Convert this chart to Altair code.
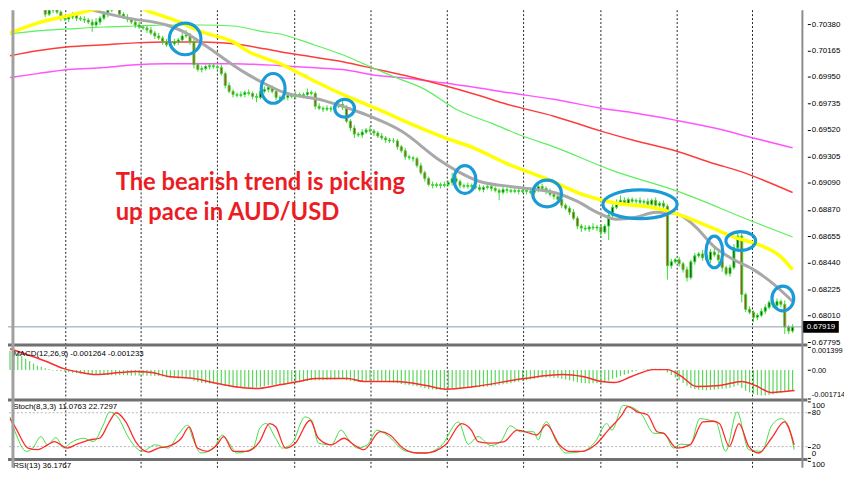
import altair as alt
import pandas as pd

# ---------------- data (prices in points = 1e-5) ----------------
first_open_pts = 70730
close_pts = [
    70718, 70702, 70678, 70638, 70581, 70541, 70549, 70533, 70541, 70460,
    70493, 70517, 70477, 70428, 70420, 70436, 70452, 70428, 70420, 70412,
    70396, 70372, 70396, 70428, 70460, 70493, 70525, 70509, 70460, 70436,
    70420, 70396, 70372, 70356, 70348, 70332, 70307, 70283, 70267, 70235,
    70211, 70219, 70235, 70251, 70283, 70291, 70235, 70050, 70010, 70018,
    70034, 70042, 70034, 70026, 69977, 69881, 69833, 69808, 69800, 69808,
    69824, 69816, 69792, 69784, 69833, 69849, 69865, 69833, 69784, 69776,
    69784, 69800, 69792, 69808, 69800, 69808, 69824, 69816, 69712, 69696,
    69688, 69696, 69688, 69712, 69728, 69704, 69591, 69535, 69486, 69478,
    69502, 69519, 69510, 69494, 69470, 69454, 69438, 69430, 69430, 69382,
    69350, 69301, 69293, 69285, 69229, 69172, 69124, 69076, 69068, 69076,
    69068, 69076, 69092, 69124, 69100, 69068, 69060, 69068, 69060, 69052,
    69036, 69052, 69060, 69044, 69028, 69012, 69036, 69028, 69020, 69028,
    69020, 69028, 69020, 69012, 69028, 69060, 69044, 69020, 68995, 68979,
    68955, 68907, 68883, 68851, 68802, 68738, 68722, 68714, 68730, 68722,
    68730, 68689, 68738, 68826, 68891, 68931, 68947, 68923, 68955, 68939,
    68947, 68931, 68939, 68915, 68947, 68907, 68923, 68899, 68416, 68448,
    68464, 68432, 68384, 68319, 68448, 68496, 68512, 68480, 68464, 68528,
    68504, 68464, 68400, 68351, 68400, 68561, 68657, 68182, 68062, 68037,
    67997, 68013, 68046, 68078, 68118, 68094, 68126, 68102, 67917, 67885,
    67917,
]
hi_ext_pts = [
    16, 24, 16, 24, 32, 24, 16, 24, 40, 16,
    24, 16, 24, 16, 24, 16, 24, 16, 16, 24,
    16, 24, 32, 16, 24, 24, 40, 24, 16, 16,
    24, 16, 16, 24, 16, 16, 24, 16, 24, 16,
    24, 16, 24, 16, 24, 40, 16, 24, 16, 24,
    16, 24, 16, 16, 24, 16, 24, 16, 16, 24,
    16, 24, 16, 24, 40, 24, 16, 16, 24, 16,
    24, 16, 16, 24, 16, 16, 32, 16, 16, 24,
    16, 24, 16, 24, 32, 24, 16, 16, 24, 16,
    24, 16, 32, 16, 16, 24, 16, 16, 24, 16,
    16, 24, 16, 16, 16, 24, 16, 16, 24, 16,
    16, 24, 16, 48, 24, 16, 16, 24, 16, 16,
    24, 16, 16, 24, 16, 16, 24, 16, 16, 24,
    16, 24, 16, 32, 24, 40, 24, 16, 24, 16,
    16, 24, 16, 16, 24, 16, 16, 24, 16, 32,
    16, 24, 16, 16, 24, 24, 40, 24, 16, 16,
    16, 24, 16, 24, 16, 24, 16, 24, 16, 24,
    16, 24, 16, 24, 16, 24, 16, 32, 16, 24,
    40, 24, 16, 16, 24, 32, 24, 24, 16, 24,
    16, 16, 24, 24, 16, 16, 24, 16, 32, 16,
    24,
]
lo_ext_pts = [
    16, 16, 24, 16, 24, 16, 24, 16, 16, 24,
    16, 24, 16, 24, 16, 24, 16, 24, 16, 24,
    16, 56, 16, 24, 16, 24, 16, 16, 24, 16,
    24, 16, 24, 16, 16, 24, 16, 24, 16, 24,
    16, 24, 16, 24, 16, 16, 24, 32, 16, 24,
    16, 24, 16, 24, 16, 24, 16, 24, 16, 16,
    24, 16, 24, 40, 16, 16, 24, 16, 24, 16,
    16, 24, 16, 24, 16, 24, 16, 16, 24, 16,
    24, 16, 24, 16, 16, 24, 16, 24, 32, 16,
    24, 16, 16, 24, 16, 16, 24, 16, 16, 24,
    16, 24, 16, 24, 16, 16, 24, 16, 24, 16,
    24, 16, 16, 24, 16, 24, 16, 16, 24, 16,
    16, 24, 16, 24, 16, 64, 16, 24, 16, 16,
    24, 16, 24, 16, 24, 16, 16, 24, 16, 24,
    16, 24, 16, 24, 16, 24, 32, 16, 24, 16,
    24, 40, 16, 113, 24, 16, 24, 16, 24, 16,
    24, 16, 24, 16, 24, 16, 16, 24, 113, 24,
    16, 24, 24, 32, 16, 24, 16, 24, 16, 24,
    16, 24, 32, 16, 24, 16, 24, 64, 24, 16,
    40, 24, 16, 24, 16, 24, 16, 24, 56, 24,
    16,
]

# moving averages: bar index -> value in points
ma_gray_idx = [0, 10, 20, 30, 40, 45, 50, 60, 65, 70, 80, 90, 100, 110, 115, 120, 130, 140,
               145, 150, 155, 160, 165, 170, 175, 180, 185, 190, 195, 200]
ma_gray_pts = [70549, 70590, 70501, 70428, 70372, 70307, 70203, 69985, 69897, 69824, 69760,
               69655, 69510, 69269, 69172, 69100, 69052, 69003, 68939, 68850, 68794, 68810,
               68850, 68842, 68738, 68569, 68464, 68384, 68271, 68126]
ma_yellow_idx = [0, 7, 15, 24, 32, 36, 42, 49, 57, 61, 69, 77, 85, 94, 102, 110, 119, 127,
                 137, 147, 155, 164, 170, 179, 185, 190, 197, 200]
ma_yellow_pts = [70307, 70388, 70448, 70509, 70517, 70477, 70412, 70316, 70235, 70155, 70058,
                 69929, 69808, 69688, 69575, 69470, 69366, 69245, 69124, 68987, 68923, 68891,
                 68842, 68730, 68649, 68601, 68488, 68384]
ma_green_idx = [0, 7, 15, 24, 32, 40, 49, 57, 65, 69, 77, 85, 92, 98, 106, 114, 123, 131,
                139, 154, 170, 189, 200]
ma_green_pts = [70299, 70324, 70340, 70356, 70364, 70372, 70372, 70364, 70316, 70299, 70219,
                70130, 70034, 69953, 69849, 69688, 69575, 69470, 69382, 69189, 69028, 68786,
                68649]
ma_red_idx = [0, 7, 15, 24, 32, 40, 49, 57, 65, 69, 77, 85, 94, 102, 110, 119, 127, 139, 151,
              160, 170, 180, 186, 200]
ma_red_pts = [70122, 70163, 70195, 70211, 70227, 70235, 70235, 70219, 70179, 70155, 70114,
              70074, 70010, 69953, 69889, 69808, 69728, 69631, 69510, 69430, 69350, 69245,
              69189, 69011]
ma_magenta_idx = [0, 7, 15, 24, 32, 40, 57, 69, 77, 85, 94, 102, 110, 119, 127, 139, 151, 160,
                  170, 180, 190, 200]
ma_magenta_pts = [69945, 69977, 70010, 70026, 70050, 70058, 70058, 70042, 70026, 70010, 69961,
                  69937, 69905, 69865, 69824, 69768, 69696, 69655, 69599, 69535, 69454, 69374]

# MACD (values in 1e-5)
macd_hist = [
    117, 108, 99, 84, 69, 55, 40, 27, 20, 12,
    6, -3, -5, -7, -9, -13, -16, -19, -21, -23,
    -25, -27, -28, -29, -30, -30, -31, -31, -30, -30,
    -31, -32, -33, -33, -33, -34, -34, -35, -36, -38,
    -44, -47, -49, -50, -49, -48, -52, -64, -72, -78,
    -80, -81, -81, -82, -86, -94, -100, -104, -106, -107,
    -107, -106, -106, -105, -102, -97, -92, -90, -89, -87,
    -85, -82, -80, -77, -74, -70, -66, -62, -62, -62,
    -61, -60, -58, -56, -54, -54, -60, -65, -69, -70,
    -70, -69, -68, -68, -69, -70, -72, -74, -76, -80,
    -84, -88, -91, -94, -98, -104, -110, -115, -117, -118,
    -118, -117, -115, -111, -109, -108, -107, -106, -105, -104,
    -103, -101, -99, -96, -93, -90, -86, -82, -78, -74,
    -70, -64, -60, -56, -53, -48, -45, -44, -45, -46,
    -48, -52, -57, -62, -68, -74, -78, -80, -81, -80,
    -80, -79, -74, -64, -54, -45, -36, -28, -20, -12,
    -5, 0, 4, 7, 9, 9, 8, 6, -15, -30,
    -45, -60, -78, -95, -108, -114, -118, -120, -122, -121,
    -119, -115, -112, -111, -108, -100, -92, -108, -124, -135,
    -144, -150, -153, -153, -150, -146, -141, -137, -133, -130,
    -126,
]
macd_sig_idx = [0, 3.8, 8.8, 13.8, 17, 22, 28, 32, 36.3, 40.5, 47, 53, 57, 63, 68, 73.8, 78,
                86.3, 90.5, 98.8, 106.3, 111.3, 118.8, 131.3, 141.3, 146.3, 151.3, 154.5,
                158.8, 164.5, 168, 171.3, 175.5, 181.3, 187, 190.5, 194.5, 198, 200.5]
macd_sig = [129, 99, 57, 9, -9, -27, -15, -9, -15, -39, -51, -81, -99, -111, -93, -69, -51,
            -51, -69, -69, -93, -115, -99, -51, -27, -39, -69, -75, -39, 3, 3, -33, -99, -93,
            -69, -93, -135, -129, -123]

# Stochastic
stoch_sig_idx = [0, 1.3, 4.6, 7.1, 9.6, 11.3, 14.6, 17.1, 20.4, 22.9, 25.4, 27.1, 29.6, 32.1,
                 35.4, 37.9, 40.4, 43.8, 45.8, 47.9, 50.4, 52.9, 54.6, 57.1, 60.4, 63.8, 66.3,
                 67.9, 70.4, 72.9, 76.7, 78.8, 82.1, 85.4, 87.9, 90.4, 94.6, 97.1, 100.4,
                 103.8, 106.3, 111.3, 115.4, 117.9, 119.6, 122.9, 126.3, 129.6, 132.9, 134.6,
                 137.1, 140.4, 142.9, 146.3, 149.6, 152.9, 156.3, 157.9, 160.4, 162.9, 165.4,
                 167.1, 170.4, 173.8, 177.1, 179.6, 181.3, 183.8, 186.3, 188.8, 191.3, 194.6,
                 197.9, 200.4]
stoch_sig = [69.6, 55.1, 17.4, 14.5, 23.2, 29.0, 17.4, 24.3, 31.9, 34.8, 63.8, 80.0, 63.8,
             29.0, 10.4, 17.4, 20.3, 34.8, 55.1, 17.4, 11.6, 23.2, 37.7, 11.6, 11.6, 29.0,
             60.9, 55.1, 17.4, 26.1, 66.7, 34.8, 23.2, 34.8, 23.2, 14.5, 46.4, 40.6, 17.4,
             8.7, 8.7, 23.2, 60.9, 49.3, 29.0, 26.1, 29.0, 49.3, 43.5, 40.6, 59.1, 23.2, 11.6,
             11.6, 23.2, 49.3, 75.4, 91.0, 81.2, 76.5, 46.4, 43.5, 17.4, 23.2, 63.8, 64.9,
             60.9, 20.3, 60.9, 20.3, 8.7, 34.8, 63.8, 23.2]
stoch_main_idx = [0, 1.3, 4.2, 5.8, 7.9, 9.6, 11.7, 13.8, 15.4, 18.8, 21.3, 23.8, 25.4, 27.5,
                  30.4, 33.8, 37.1, 40.4, 42.9, 45.4, 46.7, 48.8, 52.1, 54.2, 56.3, 57.9, 62.1,
                  63.8, 65.4, 67.9, 69.6, 72.1, 75.4, 77.1, 78.8, 82.1, 84.6, 86.3, 88.8, 91.3,
                  93.8, 96.3, 101.3, 106.3, 110.4, 114.6, 117.1, 119.6, 122.9, 125.4, 127.9,
                  130.4, 133.8, 135.0, 136.3, 137.1, 139.6, 142.1, 146.3, 149.6, 152.5, 153.8,
                  156.7, 158.8, 161.3, 164.6, 167.1, 169.6, 171.3, 173.8, 176.3, 178.8, 180.4,
                  182.9, 185.8, 188.8, 192.1, 194.6, 197.1, 198.8, 200.4]
stoch_main = [72.5, 46.4, 11.6, 17.4, 37.7, 23.2, 35.9, 17.4, 26.1, 34.8, 29.0, 58.0, 81.2,
              72.5, 34.8, 11.6, 23.2, 17.4, 40.6, 58.0, 34.8, 8.7, 17.4, 40.6, 23.2, 8.7, 17.4,
              52.2, 60.9, 34.8, 17.4, 26.1, 72.5, 66.7, 26.1, 23.2, 49.3, 34.8, 17.4, 23.2,
              49.3, 40.6, 11.6, 8.7, 23.2, 63.8, 24.3, 37.7, 22.0, 29.0, 56.8, 46.4, 46.4,
              31.9, 58.0, 63.8, 29.0, 8.7, 11.6, 29.0, 60.9, 49.3, 92.8, 89.9, 78.3, 43.5,
              43.5, 17.4, 24.3, 23.2, 69.6, 66.7, 63.8, 11.6, 81.2, 14.5, 11.6, 56.8, 69.6,
              58.0, 14.5]

# axes / labels
price_ticks = [0.70380, 0.70165, 0.69950, 0.69735, 0.69520, 0.69305, 0.69090, 0.68870,
               0.68655, 0.68440, 0.68225, 0.68010, 0.67795]
last_price = 0.67919
macd_ticks = [0.001399, 0.0, -0.001714]
macd_tick_text = ["0.001399", "0.00", "-0.001714"]
stoch_ticks = [100, 80, 20, 0]
stoch_levels = [80, 20]
rsi_ticks = [100]
grid_idx = [14.25, 33.5, 53, 72.75, 92.25, 111.75, 131.25, 151, 170.5, 189.75]

circle_idx = [44.75, 67.25, 85.5, 116.25, 137.25, 161, 180, 186.75, 197.5]
circle_price = [0.70259, 0.69857, 0.69696, 0.69116, 0.69003, 0.68915, 0.68528, 0.68617, 0.68150]

annotation_lines = ["The bearish trend is picking", "up pace in AUD/USD"]
annotation_idx = [27, 27]
annotation_price = [0.69028, 0.68786]

macd_title = "MACD(12,26,9) -0.001264 -0.001233"
stoch_title = "Stoch(8,3,3) 11.0763 22.7297"
rsi_title = "RSI(13) 36.1767"

# ---------------- styling / layout ----------------
circle_rx = [16, 12, 10, 11, 14.5, 37.5, 8.5, 15, 11]
circle_ry = [16, 15, 9, 14, 13.5, 14.5, 16, 9.5, 12.5]

W, H = 807, 462
X_DOM = [0.75, 202.5]
MAIN_DOM, MAIN_RNG = [0.677717, 0.704926], [338, 0]
MACD_DOM, MACD_RNG = [-0.001714, 0.001399], [392, 340]
STOCH_DOM, STOCH_RNG = [0, 100], [452, 395]
RSI_DOM, RSI_RNG = [80, 100], [462, 455]
WICK = "#33dd33"
FONT = "Liberation Sans"


def X(f):
    return alt.X(f, type="quantitative", scale=alt.Scale(domain=X_DOM, nice=False, zero=False), axis=None)


def sc(dom, rng):
    return alt.Scale(domain=dom, range=rng, nice=False, zero=False)


def Y(f, dom, rng, axis=None):
    return alt.Y(f, type="quantitative", scale=sc(dom, rng), axis=axis)


def right_axis(values, fmt=None, expr=None, flush=False, size=8):
    kw = dict(orient="right", values=values, domain=False, grid=False, ticks=True, tickSize=3,
              tickColor="#000", labelColor="#000", labelFont=FONT, labelFontSize=size,
              labelPadding=1, labelOverlap=False, labelFlush=flush, title=None)
    if fmt:
        kw["format"] = fmt
    if expr:
        kw["labelExpr"] = expr
    return alt.Axis(**kw)


def pts(v):
    return [p / 1e5 for p in v]


# ---------------- frames ----------------
N = len(close_pts)
opens_pts = [first_open_pts] + close_pts[:-1]
candles = pd.DataFrame({
    "i": list(range(N)),
    "open": pts(opens_pts),
    "close": pts(close_pts),
    "high": [(max(o, c) + h) / 1e5 for o, c, h in zip(opens_pts, close_pts, hi_ext_pts)],
    "low": [(min(o, c) - l) / 1e5 for o, c, l in zip(opens_pts, close_pts, lo_ext_pts)],
    "dir": ["bull" if c >= o else "bear" for o, c in zip(opens_pts, close_pts)],
})

layers = []

# vertical dotted grid
layers.append(alt.Chart(pd.DataFrame({"g": grid_idx})).mark_rule(
    color="#222222", strokeWidth=1, strokeDash=[2, 2]).encode(x=X("g")))


def ma_layer(idx, vals, color, width):
    df = pd.DataFrame({"i": idx, "p": pts(vals)})
    return alt.Chart(df).mark_line(color=color, strokeWidth=width, interpolate="monotone",
                                   clip=True).encode(x=X("i"), y=Y("p", MAIN_DOM, MAIN_RNG))


layers.append(ma_layer(ma_magenta_idx, ma_magenta_pts, "#ff55ff", 1.5))
layers.append(ma_layer(ma_red_idx, ma_red_pts, "#ff3c3c", 1.5))
layers.append(ma_layer(ma_green_idx, ma_green_pts, "#5cf05c", 1.2))

# candles
layers.append(alt.Chart(candles).mark_rule(color=WICK, strokeWidth=1, clip=True).encode(
    x=X("i"),
    y=Y("low", MAIN_DOM, MAIN_RNG, axis=right_axis(price_ticks, fmt=".5f")),
    y2="high:Q"))
layers.append(alt.Chart(candles).mark_bar(size=2, stroke=WICK, strokeWidth=1, clip=True).encode(
    x=X("i"),
    y=Y("open", MAIN_DOM, MAIN_RNG),
    y2="close:Q",
    color=alt.Color("dir:N", scale=alt.Scale(domain=["bull", "bear"], range=["#0b330b", "#e01e1e"]),
                    legend=None)))

layers.append(ma_layer(ma_gray_idx, ma_gray_pts, "#a8a8a8", 3))
layers.append(ma_layer(ma_yellow_idx, ma_yellow_pts, "#ffff00", 3.5))

# current price line
layers.append(alt.Chart(pd.DataFrame({"p": [last_price]})).mark_rule(
    color="#8a9ab0", strokeWidth=1).encode(y=Y("p", MAIN_DOM, MAIN_RNG)))


# blue ellipses
def ellipse_path(rx, ry):
    r = max(rx, ry)
    a, b = rx / r, ry / r
    return f"M{-a:.4f},0A{a:.4f},{b:.4f},0,1,0,{a:.4f},0A{a:.4f},{b:.4f},0,1,0,{-a:.4f},0Z"


circ = pd.DataFrame({
    "i": circle_idx, "p": circle_price,
    "shape": [ellipse_path(a, b) for a, b in zip(circle_rx, circle_ry)],
    "size": [(2 * max(a, b)) ** 2 for a, b in zip(circle_rx, circle_ry)],
})
layers.append(alt.Chart(circ).mark_point(filled=False, color="#1b9ad8", strokeWidth=3.2, opacity=1).encode(
    x=X("i"), y=Y("p", MAIN_DOM, MAIN_RNG),
    shape=alt.Shape("shape:N", scale=None), size=alt.Size("size:Q", scale=None)))

# annotation
ann = pd.DataFrame({"i": annotation_idx, "p": annotation_price, "t": annotation_lines})
layers.append(alt.Chart(ann).mark_text(align="left", baseline="alphabetic", font="Lato", fontSize=24,
                                       fontWeight="bold", color="#ec1c24").encode(
    x=X("i"), y=Y("p", MAIN_DOM, MAIN_RNG), text="t:N"))

# separators
layers.append(alt.Chart(pd.DataFrame({"p": [MAIN_DOM[0]]})).mark_rule(color="#707070", strokeWidth=3).encode(
    y=Y("p", MAIN_DOM, MAIN_RNG)))

# ---- MACD ----
macd_df = pd.DataFrame({"i": list(range(N)), "h": [v / 1e5 for v in macd_hist]})
macd_expr = (f"datum.value > 0.0005 ? '{macd_tick_text[0]}' : "
             f"(datum.value < -0.0005 ? '{macd_tick_text[2]}' : '{macd_tick_text[1]}')")
layers.append(alt.Chart(macd_df).mark_rule(color="#5ad65a", strokeWidth=1.2).encode(
    x=X("i"),
    y=Y("h", MACD_DOM, MACD_RNG, axis=right_axis(macd_ticks, expr=macd_expr, flush=True, size=7.5)),
    y2=alt.datum(0)))
sig_df = pd.DataFrame({"i": macd_sig_idx, "s": [v / 1e5 for v in macd_sig]})
layers.append(alt.Chart(sig_df).mark_line(color="#ff2a2a", strokeWidth=1.5, interpolate="monotone").encode(
    x=X("i"), y=Y("s", MACD_DOM, MACD_RNG)))
layers.append(alt.Chart(pd.DataFrame({"i": [0.8], "v": [0.00098], "t": [macd_title]})).mark_text(
    align="left", baseline="middle", font=FONT, fontSize=8, color="#000").encode(
    x=X("i"), y=Y("v", MACD_DOM, MACD_RNG), text="t:N"))
layers.append(alt.Chart(pd.DataFrame({"v": [MACD_DOM[0]]})).mark_rule(
    color="#707070", strokeWidth=3, yOffset=1.5).encode(y=Y("v", MACD_DOM, MACD_RNG)))

# ---- Stochastic ----
layers.append(alt.Chart(pd.DataFrame({"v": stoch_levels})).mark_rule(
    color="#b4b4b4", strokeWidth=1, strokeDash=[2, 2]).encode(
    y=Y("v", STOCH_DOM, STOCH_RNG, axis=right_axis(stoch_ticks, fmt="d", flush=True))))
layers.append(alt.Chart(pd.DataFrame({"i": stoch_main_idx, "v": stoch_main})).mark_line(
    color="#44dd44", strokeWidth=1, interpolate="monotone", clip=True).encode(
    x=X("i"), y=Y("v", STOCH_DOM, STOCH_RNG)))
layers.append(alt.Chart(pd.DataFrame({"i": stoch_sig_idx, "v": stoch_sig})).mark_line(
    color="#ff2a2a", strokeWidth=1.3, interpolate="monotone", clip=True).encode(
    x=X("i"), y=Y("v", STOCH_DOM, STOCH_RNG)))
layers.append(alt.Chart(pd.DataFrame({"i": [0.8], "v": [89.5], "t": [stoch_title]})).mark_text(
    align="left", baseline="middle", font=FONT, fontSize=8, color="#000").encode(
    x=X("i"), y=Y("v", STOCH_DOM, STOCH_RNG), text="t:N"))
layers.append(alt.Chart(pd.DataFrame({"v": [STOCH_DOM[0]]})).mark_rule(
    color="#707070", strokeWidth=3, yOffset=1.5).encode(y=Y("v", STOCH_DOM, STOCH_RNG)))

# ---- RSI ----
layers.append(alt.Chart(pd.DataFrame({"i": [0.8], "v": [85.7], "t": [rsi_title]})).mark_text(
    align="left", baseline="middle", font=FONT, fontSize=8, color="#000").encode(
    x=X("i"), y=Y("v", RSI_DOM, RSI_RNG, axis=right_axis(rsi_ticks, fmt="d", flush=True)), text="t:N"))

# borders
layers.append(alt.Chart(pd.DataFrame({"b": [X_DOM[1]]})).mark_rule(color="#8c8c8c", strokeWidth=2).encode(x=X("b")))
layers.append(alt.Chart(pd.DataFrame({"b": [X_DOM[0]]})).mark_rule(color="#a0a0a0", strokeWidth=3).encode(x=X("b")))

# last price box
box = pd.DataFrame({"i": [207.25], "p": [last_price], "t": [f"{last_price:.5f}"]})
layers.append(alt.Chart(box).mark_point(filled=True, color="#000", opacity=1, shape="M-1.5,-0.5L1.5,-0.5L1.5,0.5L-1.5,0.5Z",
                                        size=576).encode(x=X("i"), y=Y("p", MAIN_DOM, MAIN_RNG)))
layers.append(alt.Chart(box).mark_text(align="center", baseline="middle", font=FONT, fontSize=8,
                                       color="#ffffff").encode(x=X("i"), y=Y("p", MAIN_DOM, MAIN_RNG), text="t:N"))

chart = alt.layer(*layers).resolve_scale(y="independent").properties(
    width=W, height=H,
    autosize=alt.AutoSizeParams(type="none"),
    padding={"left": 0, "top": 0, "right": 37, "bottom": 0},
    background="white",
).configure_view(stroke=None)

chart.save("out.html", embed_options={"renderer": "svg", "actions": False})
